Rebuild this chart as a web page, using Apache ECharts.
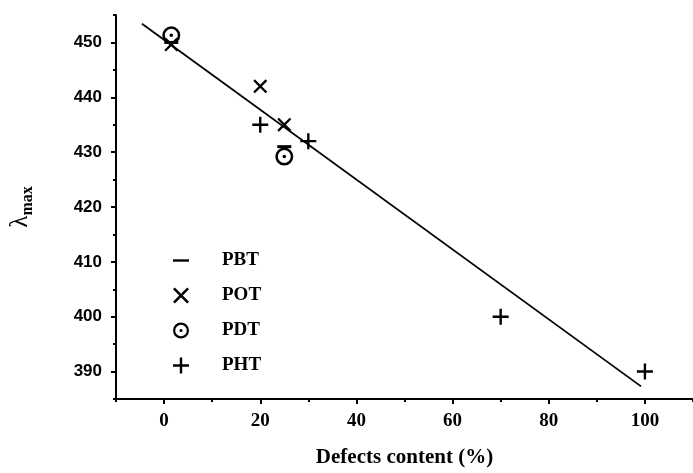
<!DOCTYPE html>
<html><head><meta charset="utf-8">
<script src="https://cdn.jsdelivr.net/npm/echarts@6/dist/echarts.min.js"></script>
<style>html,body{margin:0;padding:0;background:#fff}#c{width:693px;height:473px}</style>
</head><body><div id="c"></div>
<script>
// Data
const pbtX = [1.5, 25];
const pbtY = [450, 431];
const potX = [1.5, 20, 25];
const potY = [449.6, 442, 435];
const pdtX = [1.5, 25];
const pdtY = [451.3, 429.2];
const phtX = [20, 30, 70, 100];
const phtY = [435, 432, 400, 390];
const fitX = [-4.6, 99.2];
const fitY = [453.4, 387.3];
const xMajorTicks = [0, 20, 40, 60, 80, 100];
const xMinorTicks = [-10, 10, 30, 50, 70, 90, 110];
const yMajorTicks = [390, 400, 410, 420, 430, 440, 450];
const yMinorTicks = [385, 395, 405, 415, 425, 435, 445, 455];
const seriesNames = ['PBT', 'POT', 'PDT', 'PHT'];

const zip = (a, b) => a.map((v, i) => [v, b[i]]);

const P_CROSS = 'path://M0,2.3L2.3,0L20,17.7L17.7,20Z M2.3,20L0,17.7L17.7,0L20,2.3Z';
const P_PLUS = 'path://M8.5,0H11.5V8.5H20V11.5H11.5V20H8.5V11.5H0V8.5H8.5Z';
const P_RING = 'path://M10,0A10,10 0 1,1 10,20A10,10 0 1,1 10,0Z M10,2.8A7.2,7.2 0 1,0 10,17.2A7.2,7.2 0 1,0 10,2.8Z M10,8A2,2 0 1,1 10,12A2,2 0 1,1 10,8Z';
const P_DASH = 'path://M0,0L0,0 M20,20L20,20 M0,8.5L20,8.5L20,11.5L0,11.5Z';

const serif = 'Liberation Serif';
const sans = 'Liberation Sans';

const chart = echarts.init(document.getElementById('c'));
const scatterBase = {type: 'scatter', xAxisIndex: 0, yAxisIndex: 0, itemStyle: {color: '#000', opacity: 1}, emphasis: {disabled: true}};
chart.setOption({
  animation: false,
  backgroundColor: '#fff',
  grid: {left: 114, right: -2, top: 15, bottom: 71, containLabel: false},
  legend: {
    orient: 'vertical', left: 168, top: 246,
    itemWidth: 18, itemHeight: 16, itemGap: 16,
    data: [
      {name: 'PBT', icon: P_DASH},
      {name: 'POT', icon: P_CROSS},
      {name: 'PDT', icon: P_RING},
      {name: 'PHT', icon: P_PLUS}
    ],
    textStyle: {fontFamily: serif, fontWeight: 'bold', fontSize: 19, color: '#000', padding: [0, 0, 0, 27]},
    itemStyle: {color: '#000'},
    selectedMode: false
  },
  xAxis: [{
    type: 'value', min: -10, max: 110, interval: 10, position: 'bottom',
    axisLine: {show: true, onZero: false, lineStyle: {color: '#000', width: 2}},
    axisTick: {show: true, inside: false, length: 5, customValues: xMajorTicks, lineStyle: {color: '#000', width: 2}},
    axisLabel: {customValues: xMajorTicks, margin: 13, fontFamily: serif, fontWeight: 'bold', fontSize: 19, color: '#000'},
    splitLine: {show: false},
    name: 'Defects content (%)', nameLocation: 'middle', nameGap: 48,
    nameTextStyle: {fontFamily: serif, fontWeight: 'bold', fontSize: 21, color: '#000'}
  }, {
    type: 'value', min: -10, max: 110, interval: 10, position: 'bottom',
    axisLine: {show: false, onZero: false},
    axisTick: {show: true, length: 3, customValues: xMinorTicks, lineStyle: {color: '#000', width: 2}},
    axisLabel: {show: false},
    splitLine: {show: false}
  }],
  yAxis: [{
    type: 'value', min: 385, max: 455, interval: 5, position: 'left',
    axisLine: {show: true, onZero: false, lineStyle: {color: '#000', width: 2}},
    axisTick: {show: true, length: 5, customValues: yMajorTicks, lineStyle: {color: '#000', width: 2}},
    axisLabel: {customValues: yMajorTicks, margin: 14, fontFamily: sans, fontWeight: 'bold', fontSize: 17, color: '#000'},
    splitLine: {show: false},
    name: '{l|λ}{s|max}', nameLocation: 'middle', nameRotate: 90, nameGap: 80,
    nameTextStyle: {
      color: '#000',
      rich: {
        l: {fontFamily: serif, fontSize: 25, color: '#000', lineHeight: 25, padding: [0, 0, 6, 0]},
        s: {fontFamily: serif, fontSize: 16, fontWeight: 'bold', color: '#000', verticalAlign: 'bottom', lineHeight: 16}
      }
    }
  }, {
    type: 'value', min: 385, max: 455, interval: 5, position: 'left',
    axisLine: {show: false, onZero: false},
    axisTick: {show: true, length: 3, customValues: yMinorTicks, lineStyle: {color: '#000', width: 2}},
    axisLabel: {show: false},
    splitLine: {show: false}
  }],
  series: [
    {type: 'line', name: 'fit', data: zip(fitX, fitY), showSymbol: false, symbol: 'none',
     lineStyle: {color: '#000', width: 1.8}, z: 1, silent: true, xAxisIndex: 0, yAxisIndex: 0},
    Object.assign({}, scatterBase, {name: 'PBT', data: zip(pbtX, pbtY), symbol: 'rect', symbolSize: [14, 3]}),
    Object.assign({}, scatterBase, {name: 'POT', data: zip(potX, potY), symbol: P_CROSS, symbolSize: 14}),
    Object.assign({}, scatterBase, {name: 'PDT', data: zip(pdtX, pdtY), symbol: P_RING, symbolSize: 18}),
    Object.assign({}, scatterBase, {name: 'PHT', data: zip(phtX, phtY), symbol: P_PLUS, symbolSize: 16})
  ]
});
</script></body></html>
